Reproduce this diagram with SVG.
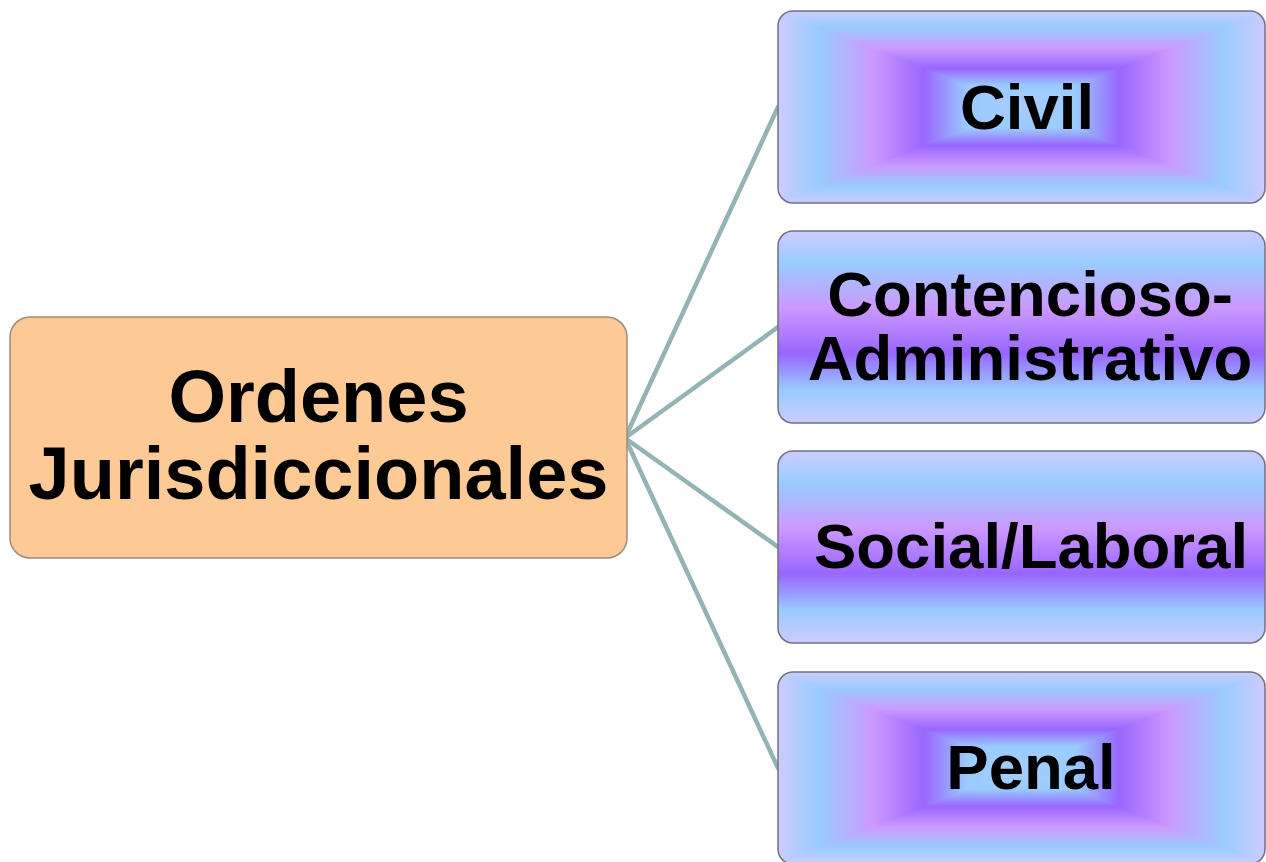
<svg xmlns="http://www.w3.org/2000/svg" xmlns:xlink="http://www.w3.org/1999/xlink" width="1266" height="862" viewBox="0 0 1266 862">
<defs>
<style>
.lbl{font-family:"Liberation Sans",Arial,sans-serif;font-weight:bold;fill:#000;text-anchor:middle}
.big{font-size:74px}
.sm{font-size:63.5px}
.box{stroke:#707282;stroke-width:1.5}
.conn{stroke:#93B3B5;stroke-width:4.5;fill:none;stroke-linecap:round}
</style>
<linearGradient id="gH" x1="0" y1="0" x2="1" y2="0">
<stop offset="0" stop-color="#CCCCFF"/>
<stop offset="0.085" stop-color="#99CCFF"/>
<stop offset="0.195" stop-color="#CC99FF"/>
<stop offset="0.3" stop-color="#9966FF"/>
<stop offset="0.39" stop-color="#99CCFF"/>
<stop offset="0.5" stop-color="#A8CCFF"/>
<stop offset="0.61" stop-color="#99CCFF"/>
<stop offset="0.7" stop-color="#9966FF"/>
<stop offset="0.805" stop-color="#CC99FF"/>
<stop offset="0.915" stop-color="#99CCFF"/>
<stop offset="1" stop-color="#CCCCFF"/>
</linearGradient>
<linearGradient id="gT" x1="0" y1="0" x2="0" y2="1">
<stop offset="0" stop-color="#CCCCFF"/>
<stop offset="0.17" stop-color="#99CCFF"/>
<stop offset="0.39" stop-color="#CC99FF"/>
<stop offset="0.6" stop-color="#9966FF"/>
<stop offset="0.78" stop-color="#99CCFF"/>
<stop offset="1" stop-color="#A8CCFF"/>
</linearGradient>
<linearGradient id="gB" xlink:href="#gT" x1="0" y1="1" x2="0" y2="0"/>
<linearGradient id="gV" x1="0" y1="0" x2="0" y2="1">
<stop offset="0" stop-color="#CCCCFF"/>
<stop offset="0.17" stop-color="#99CCFF"/>
<stop offset="0.4" stop-color="#CC99FF"/>
<stop offset="0.64" stop-color="#9966FF"/>
<stop offset="0.83" stop-color="#99CCFF"/>
<stop offset="1" stop-color="#CCCCFF"/>
</linearGradient>
<clipPath id="cCivil"><rect x="778" y="11" width="487" height="192" rx="15"/></clipPath>
<clipPath id="cPenal"><rect x="778" y="672" width="487" height="192" rx="15"/></clipPath>
</defs>
<rect width="1266" height="862" fill="#FFFFFF"/>

<g id="connectors">
<line class="conn" x1="625" y1="438" x2="778" y2="107"/>
<line class="conn" x1="625" y1="438" x2="778" y2="327"/>
<line class="conn" x1="625" y1="438" x2="778" y2="547"/>
<line class="conn" x1="625" y1="438" x2="778" y2="768"/>
</g>

<g id="node-ordenes">
<rect x="10" y="317" width="617" height="241" rx="20" fill="#FDCA95" stroke="#9E8C7A" stroke-width="1.5"/>
<text class="lbl big" x="318.5" y="422">Ordenes</text>
<text class="lbl big" x="318.5" y="499">Jurisdiccionales</text>
</g>

<g id="node-civil">
<g clip-path="url(#cCivil)">
<rect x="778" y="11" width="487" height="192" fill="url(#gH)"/>
<polygon points="778,11 1265,11 1021.5,107" fill="url(#gT)"/>
<polygon points="778,203 1265,203 1021.5,107" fill="url(#gB)"/>
</g>
<rect class="box" x="778" y="11" width="487" height="192" rx="15" fill="none"/>
<text class="lbl sm" x="1027" y="129">Civil</text>
</g>

<g id="node-contencioso">
<rect class="box" x="778" y="231" width="487" height="192" rx="15" fill="url(#gV)"/>
<text class="lbl sm" x="1030" y="316">Contencioso-</text>
<text class="lbl sm" x="1030" y="380">Administrativo</text>
</g>

<g id="node-social">
<rect class="box" x="778" y="451" width="487" height="192" rx="15" fill="url(#gV)"/>
<text class="lbl sm" x="1031" y="568">Social/Laboral</text>
</g>

<g id="node-penal">
<g clip-path="url(#cPenal)">
<rect x="778" y="672" width="487" height="192" fill="url(#gH)"/>
<polygon points="778,672 1265,672 1021.5,768" fill="url(#gT)"/>
<polygon points="778,864 1265,864 1021.5,768" fill="url(#gB)"/>
</g>
<rect class="box" x="778" y="672" width="487" height="192" rx="15" fill="none"/>
<text class="lbl sm" x="1031" y="789">Penal</text>
</g>
</svg>
